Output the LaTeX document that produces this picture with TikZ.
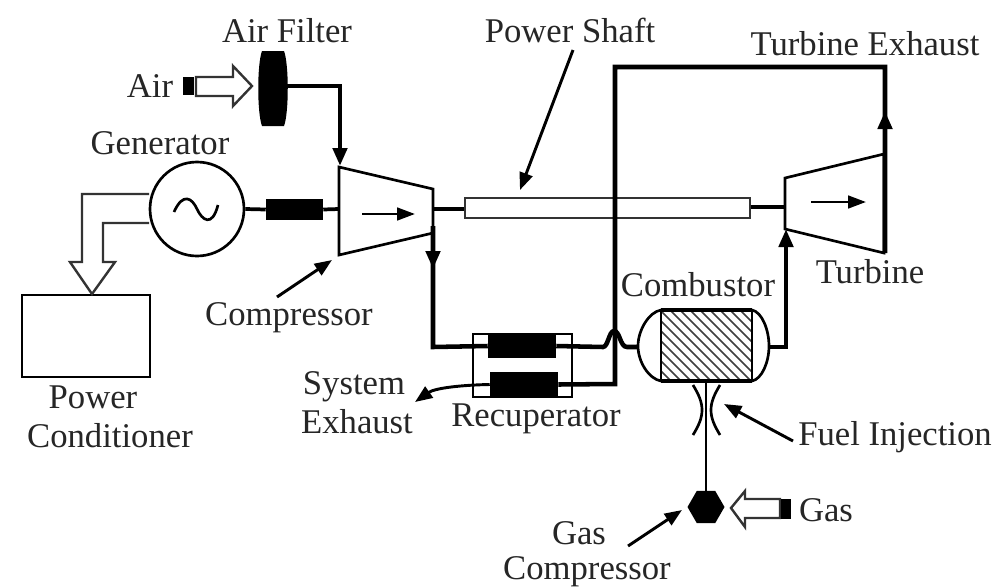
\documentclass[tikz,border=0pt]{standalone}
\usepackage{fontspec}
\setmainfont{Liberation Serif}
\usetikzlibrary{arrows.meta,shapes.geometric}
\tikzset{
  x=0.75pt,y=-0.75pt,
  lab/.style={inner sep=0pt,font=\fontsize{26}{30}\selectfont,text=black!85,text height=17.5pt,text depth=0pt},
  thick line/.style={line width=3.4pt,line join=miter},
  thin line/.style={line width=2pt,line join=miter},
  flow/.style={line width=3.4pt,-{Triangle[length=13.5pt,width=10.5pt]}},
  inner flow/.style={line width=2pt,-{Triangle[length=13.5pt,width=9.5pt]}},
  pointer/.style={line width=2.2pt,-{Triangle[length=13pt,width=10pt]}},
  solid block/.style={fill=black,draw=none,inner sep=0pt},
  hollow/.style={draw=black!80,line width=1.8pt,fill=white,line join=miter},
}
\begin{document}
\begin{tikzpicture}
\useasboundingbox (0,0) rectangle (995,586);
\fill[white] (0,0) rectangle (995,586);

% compressor and turbine bodies
\draw[thin line] (339,167) coordinate (cTL) -- (433,189) coordinate (cTR) -- (433,233) coordinate (cBR) -- (339,255) coordinate (cBL) -- cycle;
\draw[thin line] (785,178) coordinate (tTL) -- (884,154) coordinate (tTR) -- (884,253) coordinate (tBR) -- (785,229) coordinate (tBL) -- cycle;
\coordinate (cIn) at (339,209);
\coordinate (cOut) at (433,209);
\coordinate (tIn) at (785,207);
\draw[inner flow] (362,214) coordinate (ca) -- (415,214) coordinate (cb);
\draw[inner flow] (811,202) coordinate (ta) -- (866,202) coordinate (tb);

% power conditioner and its feed
\node[draw,line width=2.2pt,minimum width=128pt*0.75,minimum height=82pt*0.75,inner sep=0pt] (pc) at (86,336) {};
\draw[hollow] (149,194) coordinate (p1) -- (82,194) -- (82,262) -- (70,262) -- (92,294) coordinate (ptip) -- (115,262) -- (103,262) -- (103,223) -- (149,223) coordinate (p2);

% generator
\node[circle,draw,fill=white,line width=2pt,minimum size=94pt*0.75,inner sep=0pt] (gen) at (197,209) {};
\draw[line width=2pt] (174,212) .. controls (183,192) and (192,198) .. (197,209) .. controls (202,220) and (212,228) .. (218,205);

% generator coupling
\node[solid block,minimum width=57pt*0.75,minimum height=21pt*0.75] (coup) at (294.5,209.5) {};
\draw[line width=2.8pt] (gen.east) -- (coup.west);
\draw[line width=2.8pt] (coup.east) -- (cIn);

% power shaft
\node[hollow,minimum width=285pt*0.75,minimum height=20pt*0.75,inner sep=0pt] (shaft) at (607.5,208) {};
\draw[line width=2.8pt] (cOut) -- (shaft.west |- cOut);
\draw[line width=2.8pt] (shaft.east |- tIn) -- (tIn);

% air
\node[lab] (air) at (150,86) {Air};
\node[solid block,minimum width=9pt*0.75,minimum height=18pt*0.75] (airplug) at (187,86) {};
\draw[hollow] (196,77) coordinate (a1) -- (233,77) -- (233,66) -- (252,86) coordinate (airtip) -- (233,106) -- (233,96) -- (196,96) -- cycle;
\draw[line width=1.6pt] (192.5,77) -- (192.5,95);
\node[lab] (airfilter) at (287,31) {Air Filter};
\coordinate (fc) at (340,86);
\coordinate (fE) at (287,86);
\fill[black] (262,51) -- (284,51) .. controls (289,64) and (289,113) .. (284,126) -- (262,126) .. controls (257,113) and (257,64) .. (262,51) -- cycle;
\draw[thick line] (fE) -- (fc) -- (340,150);
\draw[flow] (340,130) -- (340,166);

% recuperator
\node[draw,line width=1.8pt,minimum width=99pt*0.75,minimum height=63pt*0.75,inner sep=0pt] (recup) at (522.5,365.5) {};
\node[solid block,minimum width=68pt*0.75,minimum height=24pt*0.75] (rA) at (522,346) {};
\node[solid block,minimum width=68pt*0.75,minimum height=25pt*0.75] (rB) at (524,384.5) {};

% combustor
\draw[line width=2pt] (661,310) coordinate (k1) -- (752,310) .. controls (762,312) and (769,330) .. (769,346) .. controls (769,362) and (762,379) .. (752,381) -- (661,381) .. controls (649,379) and (638,362) .. (638,346) .. controls (638,330) and (649,312) .. (661,310) -- cycle;
\begin{scope}
\clip (661,311) rectangle (752,380);
\foreach \i in {-80,-70,...,100} \draw[line width=1.2pt,black!75] (\i+661,311) -- (\i+661+69,380);
\end{scope}
\draw[line width=2pt] (661,310) rectangle (752,381);
\draw[line width=3pt] (661,310) -- (752,310) (661,381) -- (752,381);
\coordinate (kL) at (638,347);
\coordinate (kR) at (769,347);
\coordinate (kB) at (706,381);
\node[lab] (comb) at (698,285) {Combustor};

% compressor outlet to recuperator, hop, combustor
\draw[thick line] (433,226) -- (433,347) coordinate (c2) -- (rA.west);
\draw[flow] (433,232) -- (433,269);
\draw[thick line] (rA.east) -- (603,347) .. controls (608,347) and (609,331) .. (614,331) .. controls (620,331) and (620,347) .. (627,347) -- (kL);
% combustor to turbine
\draw[thick line] (kR) -- (786,347) coordinate (k3) -- (786,250);
\draw[flow] (786,262) -- (786,229);

% turbine exhaust, back to recuperator
\draw[thick line] (rB.east) -- (615,384) coordinate (e1) -- (615,67) coordinate (e2) -- (885,67) coordinate (e3) -- (885,253);
\draw[flow] (885,145) -- (885,111);

% system exhaust
\node[lab] (sys1) at (354,383) {System};
\node[lab] (sys2) at (357,422) {Exhaust};
\coordinate (sysend) at (415,402);
\draw[pointer] (rB.west) .. controls (462,385) and (435,388) .. (sysend);

% fuel
\node[regular polygon,regular polygon sides=6,fill=black,inner sep=0pt,minimum size=37pt*0.75] (hex) at (706,507) {};
\draw[line width=2pt] (kB) -- (hex.north);
\draw[line width=2pt] (693,385) .. controls (699,395) and (702,402) .. (702,410) .. controls (702,418) and (699,425) .. (693,435);
\draw[line width=2pt] (720,385) .. controls (714,395) and (711,402) .. (711,410) .. controls (711,418) and (714,425) .. (720,435);
\draw[hollow] (780,499) coordinate (g1) -- (745,499) -- (745,491) -- (731,508) coordinate (gtip) -- (745,527) -- (745,518) -- (780,518) -- cycle;
\node[solid block,minimum width=10pt*0.75,minimum height=20pt*0.75] (gasplug) at (786,509) {};
\node[lab] (gas) at (826,510) {Gas};

% labels
\node[lab] (pshaft) at (570,31) {Power Shaft};
\node[lab] (texh) at (865,44) {Turbine Exhaust};
\node[lab] (gentxt) at (160,143) {Generator};
\node[lab] (comp) at (289,314) {Compressor};
\node[lab] (pw) at (93,397) {Power};
\node[lab] (cond) at (110,436) {Conditioner};
\node[lab] (rec) at (536,415) {Recuperator};
\node[lab] (turb) at (870,272) {Turbine};
\node[lab] (fuel) at (895,434) {Fuel Injection};
\node[lab] (gc1) at (579,533) {Gas};
\node[lab] (gc2) at (587,568) {Compressor};

% pointers
\coordinate (pa) at (573,50); \coordinate (pb) at (520,190);
\draw[pointer] (pa) -- (pb);
\coordinate (qa) at (277,297); \coordinate (qb) at (332,260);
\draw[pointer] (qa) -- (qb);
\coordinate (ra) at (793,441); \coordinate (rb) at (724,404);
\draw[pointer] (ra) -- (rb);
\coordinate (sa) at (628,546); \coordinate (sb) at (682,510);
\draw[pointer] (sa) -- (sb);
\end{tikzpicture}
\end{document}
